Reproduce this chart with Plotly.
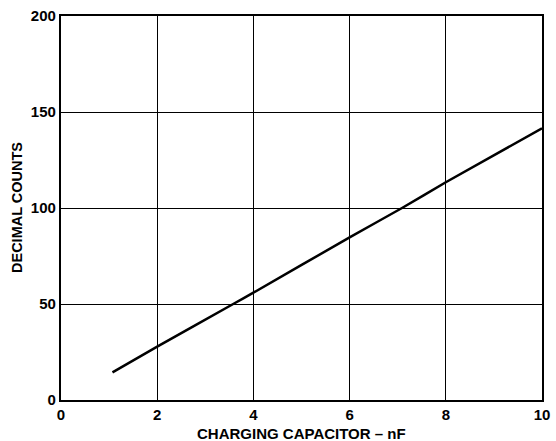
import plotly.graph_objects as go

cap_nf = [1.07, 2, 3.58, 4, 6, 7.09, 8, 10]
counts = [14.4, 27.8, 50, 55.9, 84.7, 100, 113.4, 141.5]
x_ticks = [0, 2, 4, 6, 8, 10]
y_ticks = [0, 50, 100, 150, 200]
x_title = "CHARGING CAPACITOR – nF"
y_title = "DECIMAL COUNTS"

font = "Liberation Sans, Arial, sans-serif"

fig = go.Figure()
fig.add_trace(go.Scatter(x=cap_nf, y=counts, mode="lines",
                         line=dict(color="black", width=2.5, shape="spline", smoothing=0.3),
                         showlegend=False, cliponaxis=False))

fig.update_layout(
    width=556, height=441,
    margin=dict(l=61, r=14, t=16, b=41),
    paper_bgcolor="white", plot_bgcolor="white",
    font=dict(family=font, color="black"),
)
fig.update_xaxes(
    range=[0, 10], tickvals=x_ticks, ticktext=[f"<b>{v}</b>" for v in x_ticks],
    tickfont=dict(size=15, family=font), ticks="", ticklen=0,
    showgrid=True, gridcolor="black", gridwidth=1.2,
    showline=True, linecolor="black", linewidth=2.2, mirror=True,
    zeroline=False, automargin=False,
)
fig.update_yaxes(
    range=[0, 200], tickvals=y_ticks, ticktext=[f"<b>{v}</b>" for v in y_ticks],
    tickfont=dict(size=15, family=font), ticks="", ticklen=0,
    showgrid=True, gridcolor="black", gridwidth=1.2,
    showline=True, linecolor="black", linewidth=2.2, mirror=True,
    zeroline=False, automargin=False,
)
fig.add_annotation(text=f"<b>{x_title}</b>", xref="paper", yref="paper",
                   x=0.5, y=0, yshift=-33, showarrow=False,
                   font=dict(size=15, family=font), xanchor="center", yanchor="middle")
fig.add_annotation(text=f"<b>{y_title}</b>", xref="paper", yref="paper",
                   x=0, xshift=-44, y=0.5, showarrow=False, textangle=-90,
                   font=dict(size=14.5, family=font), xanchor="center", yanchor="middle")

fig.write_html("out.html", config={"displayModeBar": False},
               post_script="document.body.style.margin='0';document.body.style.overflow='hidden';")
